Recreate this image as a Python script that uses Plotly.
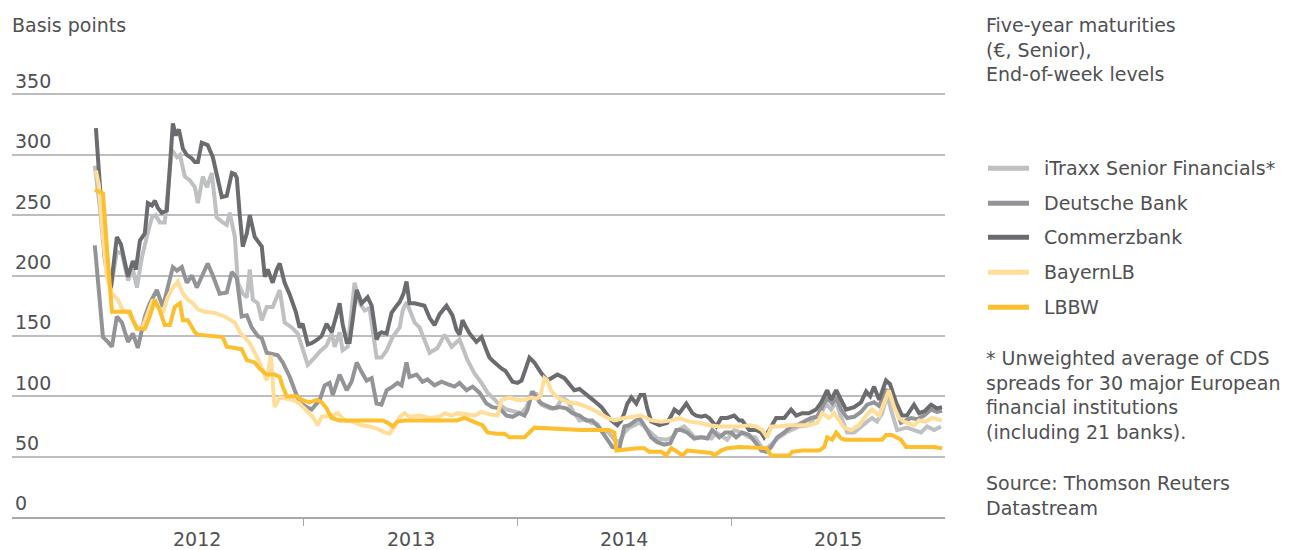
import plotly.graph_objects as go

# ---------------- data (decimal year, basis points) ----------------
series_names = ["iTraxx Senior Financials*", "Deutsche Bank", "Commerzbank", "BayernLB", "LBBW"]
series_colors = ["#BFC0C2", "#939497", "#6B6C6F", "#FFDE9A", "#FDBF2E"]

year_labels = ["2012", "2013", "2014", "2015"]
year_centers = [2012.5, 2013.5, 2014.5, 2015.5]
year_bounds = [2013, 2014, 2015]
y_ticks = [0, 50, 100, 150, 200, 250, 300, 350]

itraxx = [
    (2012.023, 291), (2012.047, 255), (2012.070, 212), (2012.098, 188), (2012.126, 220), (2012.150, 218),
    (2012.178, 196), (2012.201, 205), (2012.220, 190), (2012.243, 215), (2012.266, 232), (2012.290, 248),
    (2012.308, 250), (2012.327, 244), (2012.350, 244), (2012.364, 270), (2012.383, 304), (2012.407, 298),
    (2012.421, 300), (2012.444, 282), (2012.467, 279), (2012.491, 273), (2012.505, 260), (2012.528, 282),
    (2012.547, 273), (2012.570, 285), (2012.593, 248), (2012.621, 244), (2012.640, 242), (2012.654, 252),
    (2012.678, 232), (2012.692, 194), (2012.715, 185), (2012.734, 182), (2012.748, 205), (2012.762, 180),
    (2012.785, 177), (2012.804, 163), (2012.827, 174), (2012.855, 174), (2012.888, 188), (2012.911, 161),
    (2012.944, 157), (2012.972, 152), (2012.995, 138), (2013.019, 126), (2013.051, 132), (2013.075, 137),
    (2013.107, 142), (2013.131, 152), (2013.145, 141), (2013.168, 153), (2013.182, 138), (2013.206, 141),
    (2013.238, 194), (2013.262, 177), (2013.285, 171), (2013.308, 173), (2013.341, 132), (2013.364, 132),
    (2013.388, 138), (2013.416, 149), (2013.449, 157), (2013.463, 171), (2013.481, 178), (2013.505, 166),
    (2013.519, 161), (2013.542, 157), (2013.565, 146), (2013.589, 136), (2013.626, 140), (2013.659, 151),
    (2013.692, 141), (2013.729, 147), (2013.766, 130), (2013.799, 119), (2013.832, 111), (2013.860, 103),
    (2013.883, 99), (2013.916, 93), (2013.949, 89), (2013.986, 87), (2014.019, 86), (2014.042, 91),
    (2014.065, 103), (2014.089, 102), (2014.112, 93), (2014.150, 90), (2014.182, 90), (2014.210, 99),
    (2014.234, 96), (2014.266, 86), (2014.290, 80), (2014.318, 81), (2014.346, 78), (2014.374, 77),
    (2014.397, 70), (2014.421, 71), (2014.453, 64), (2014.477, 62), (2014.500, 70), (2014.523, 74),
    (2014.570, 78), (2014.593, 75), (2014.626, 70), (2014.654, 65), (2014.696, 64), (2014.724, 66),
    (2014.748, 72), (2014.780, 75), (2014.804, 71), (2014.827, 66), (2014.874, 66), (2014.907, 65),
    (2014.930, 70), (2014.953, 67), (2014.981, 64), (2015.014, 72), (2015.047, 70), (2015.084, 66),
    (2015.112, 66), (2015.145, 57), (2015.168, 57), (2015.192, 61), (2015.224, 66), (2015.257, 70),
    (2015.285, 72), (2015.318, 75), (2015.364, 76), (2015.388, 82), (2015.421, 86), (2015.444, 94),
    (2015.467, 89), (2015.491, 95), (2015.514, 83), (2015.542, 70), (2015.575, 70), (2015.607, 75),
    (2015.636, 79), (2015.659, 82), (2015.682, 79), (2015.706, 86), (2015.729, 101), (2015.752, 86),
    (2015.776, 72), (2015.799, 73), (2015.822, 74), (2015.855, 72), (2015.888, 70), (2015.916, 75),
    (2015.949, 72), (2015.981, 75),
]

deutsche_bank = [
    (2012.023, 225), (2012.037, 199), (2012.061, 149), (2012.084, 145), (2012.103, 141), (2012.126, 166),
    (2012.150, 161), (2012.178, 145), (2012.201, 152), (2012.224, 140), (2012.243, 155), (2012.257, 166),
    (2012.280, 177), (2012.313, 188), (2012.341, 174), (2012.364, 190), (2012.388, 207), (2012.407, 204),
    (2012.430, 207), (2012.453, 194), (2012.477, 200), (2012.500, 190), (2012.523, 200), (2012.551, 210),
    (2012.575, 200), (2012.607, 185), (2012.640, 186), (2012.664, 203), (2012.687, 198), (2012.710, 166),
    (2012.734, 167), (2012.757, 157), (2012.785, 150), (2012.804, 148), (2012.827, 136), (2012.855, 135),
    (2012.879, 134), (2012.902, 128), (2012.935, 116), (2012.958, 105), (2012.981, 95), (2013.014, 91),
    (2013.037, 89), (2013.075, 97), (2013.098, 109), (2013.121, 111), (2013.136, 101), (2013.168, 118),
    (2013.201, 105), (2013.224, 112), (2013.248, 128), (2013.271, 120), (2013.294, 113), (2013.318, 115),
    (2013.341, 94), (2013.364, 93), (2013.388, 105), (2013.416, 108), (2013.439, 111), (2013.458, 109),
    (2013.481, 128), (2013.495, 116), (2013.528, 118), (2013.556, 112), (2013.579, 114), (2013.612, 109),
    (2013.645, 112), (2013.673, 110), (2013.706, 108), (2013.729, 111), (2013.762, 105), (2013.790, 108),
    (2013.822, 103), (2013.855, 94), (2013.883, 91), (2013.916, 90), (2013.949, 84), (2013.977, 83),
    (2014.009, 86), (2014.033, 84), (2014.047, 89), (2014.070, 104), (2014.103, 95), (2014.126, 93),
    (2014.164, 90), (2014.196, 91), (2014.229, 90), (2014.257, 86), (2014.290, 84), (2014.322, 80),
    (2014.350, 80), (2014.383, 74), (2014.416, 66), (2014.444, 58), (2014.477, 57), (2014.500, 75),
    (2014.523, 76), (2014.547, 79), (2014.570, 82), (2014.593, 76), (2014.626, 66), (2014.654, 62),
    (2014.687, 60), (2014.715, 61), (2014.743, 72), (2014.766, 72), (2014.794, 70), (2014.827, 65),
    (2014.860, 66), (2014.888, 65), (2014.911, 72), (2014.944, 66), (2014.972, 70), (2015.000, 70),
    (2015.023, 66), (2015.051, 70), (2015.084, 68), (2015.117, 61), (2015.140, 55), (2015.164, 54),
    (2015.187, 58), (2015.215, 66), (2015.248, 70), (2015.280, 75), (2015.308, 76), (2015.341, 79),
    (2015.374, 82), (2015.402, 83), (2015.425, 91), (2015.449, 99), (2015.472, 94), (2015.491, 99),
    (2015.514, 89), (2015.542, 82), (2015.575, 83), (2015.607, 87), (2015.636, 93), (2015.668, 95),
    (2015.692, 92), (2015.724, 105), (2015.743, 104), (2015.771, 90), (2015.794, 78), (2015.818, 80),
    (2015.841, 82), (2015.869, 81), (2015.902, 84), (2015.935, 89), (2015.963, 87), (2015.986, 88),
]

commerzbank = [
    (2012.028, 322), (2012.047, 270), (2012.070, 215), (2012.098, 190), (2012.126, 232), (2012.145, 226),
    (2012.178, 199), (2012.201, 212), (2012.215, 205), (2012.234, 229), (2012.257, 235), (2012.271, 260),
    (2012.290, 258), (2012.304, 262), (2012.318, 256), (2012.336, 252), (2012.360, 254), (2012.374, 290),
    (2012.388, 326), (2012.402, 316), (2012.416, 321), (2012.435, 305), (2012.453, 300), (2012.477, 297),
    (2012.491, 294), (2012.505, 294), (2012.523, 310), (2012.537, 309), (2012.551, 308), (2012.575, 298),
    (2012.598, 280), (2012.617, 265), (2012.640, 266), (2012.664, 285), (2012.678, 284), (2012.687, 281),
    (2012.701, 250), (2012.715, 224), (2012.734, 235), (2012.748, 250), (2012.771, 232), (2012.785, 229),
    (2012.804, 224), (2012.818, 199), (2012.832, 205), (2012.855, 194), (2012.874, 205), (2012.888, 210),
    (2012.911, 194), (2012.935, 184), (2012.944, 180), (2012.963, 170), (2012.981, 157), (2012.995, 160),
    (2013.019, 143), (2013.037, 144), (2013.065, 147), (2013.084, 150), (2013.107, 160), (2013.131, 153),
    (2013.150, 165), (2013.168, 177), (2013.182, 160), (2013.201, 145), (2013.215, 145), (2013.229, 165),
    (2013.248, 188), (2013.271, 177), (2013.285, 180), (2013.299, 182), (2013.318, 175), (2013.341, 147),
    (2013.355, 152), (2013.364, 153), (2013.388, 152), (2013.411, 169), (2013.435, 175), (2013.449, 178),
    (2013.467, 185), (2013.481, 195), (2013.495, 177), (2013.519, 177), (2013.542, 176), (2013.565, 175),
    (2013.589, 165), (2013.612, 159), (2013.636, 168), (2013.668, 175), (2013.696, 167), (2013.715, 155),
    (2013.729, 151), (2013.743, 163), (2013.757, 158), (2013.776, 152), (2013.808, 145), (2013.832, 149),
    (2013.855, 138), (2013.869, 132), (2013.893, 128), (2013.911, 125), (2013.925, 123), (2013.944, 121),
    (2013.963, 115), (2013.977, 112), (2014.000, 111), (2014.019, 113), (2014.037, 122), (2014.056, 132),
    (2014.079, 128), (2014.093, 124), (2014.112, 119), (2014.140, 113), (2014.164, 116), (2014.187, 118),
    (2014.220, 115), (2014.243, 110), (2014.266, 105), (2014.290, 106), (2014.313, 103), (2014.336, 100),
    (2014.360, 96), (2014.393, 91), (2014.416, 86), (2014.439, 80), (2014.467, 76), (2014.486, 80),
    (2014.500, 86), (2014.514, 94), (2014.533, 99), (2014.556, 94), (2014.575, 101), (2014.593, 101),
    (2014.607, 90), (2014.626, 79), (2014.664, 76), (2014.701, 78), (2014.720, 84), (2014.734, 89),
    (2014.757, 86), (2014.790, 94), (2014.818, 86), (2014.836, 84), (2014.860, 83), (2014.879, 84),
    (2014.897, 82), (2014.930, 75), (2014.953, 82), (2014.981, 82), (2015.014, 84), (2015.037, 80),
    (2015.051, 80), (2015.070, 76), (2015.084, 72), (2015.117, 72), (2015.140, 70), (2015.154, 66),
    (2015.178, 72), (2015.210, 82), (2015.248, 82), (2015.280, 89), (2015.304, 84), (2015.332, 86),
    (2015.364, 86), (2015.397, 89), (2015.421, 95), (2015.449, 105), (2015.467, 97), (2015.491, 105),
    (2015.514, 97), (2015.537, 89), (2015.575, 91), (2015.607, 95), (2015.631, 104), (2015.650, 100),
    (2015.668, 108), (2015.692, 97), (2015.724, 113), (2015.743, 110), (2015.771, 95), (2015.799, 84),
    (2015.822, 84), (2015.855, 93), (2015.879, 86), (2015.907, 88), (2015.935, 93), (2015.963, 90),
    (2015.986, 91),
]

bayernlb = [
    (2012.028, 287), (2012.042, 275), (2012.061, 232), (2012.079, 199), (2012.103, 185), (2012.131, 180),
    (2012.154, 171), (2012.178, 170), (2012.201, 163), (2012.224, 156), (2012.248, 158), (2012.271, 169),
    (2012.294, 180), (2012.318, 174), (2012.341, 169), (2012.364, 182), (2012.388, 190), (2012.411, 195),
    (2012.435, 185), (2012.458, 180), (2012.481, 177), (2012.505, 172), (2012.537, 170), (2012.584, 169),
    (2012.631, 166), (2012.678, 161), (2012.701, 153), (2012.748, 144), (2012.794, 128), (2012.827, 113),
    (2012.846, 134), (2012.864, 91), (2012.888, 99), (2012.921, 98), (2012.949, 97), (2012.981, 94),
    (2013.014, 88), (2013.042, 83), (2013.065, 76), (2013.084, 83), (2013.131, 84), (2013.159, 86),
    (2013.192, 80), (2013.229, 79), (2013.271, 76), (2013.308, 75), (2013.346, 73), (2013.379, 70),
    (2013.402, 69), (2013.425, 75), (2013.449, 83), (2013.472, 86), (2013.495, 83), (2013.542, 84),
    (2013.589, 82), (2013.636, 83), (2013.659, 86), (2013.692, 84), (2013.720, 86), (2013.757, 85),
    (2013.799, 84), (2013.832, 87), (2013.869, 85), (2013.907, 84), (2013.925, 97), (2013.963, 99),
    (2014.000, 97), (2014.033, 97), (2014.065, 99), (2014.089, 98), (2014.107, 100), (2014.126, 115),
    (2014.140, 113), (2014.159, 104), (2014.187, 99), (2014.234, 95), (2014.280, 94), (2014.327, 91),
    (2014.374, 87), (2014.421, 82), (2014.453, 80), (2014.500, 82), (2014.547, 83), (2014.579, 84),
    (2014.603, 82), (2014.626, 80), (2014.673, 79), (2014.720, 80), (2014.757, 82), (2014.804, 79),
    (2014.850, 78), (2014.897, 76), (2014.944, 75), (2014.991, 75), (2015.037, 75), (2015.084, 76),
    (2015.117, 75), (2015.145, 72), (2015.168, 66), (2015.187, 75), (2015.224, 75), (2015.271, 76),
    (2015.318, 76), (2015.364, 76), (2015.402, 78), (2015.425, 86), (2015.458, 82), (2015.481, 86),
    (2015.505, 80), (2015.528, 74), (2015.561, 72), (2015.598, 76), (2015.631, 84), (2015.659, 89),
    (2015.692, 84), (2015.715, 94), (2015.738, 105), (2015.762, 91), (2015.785, 82), (2015.808, 79),
    (2015.855, 76), (2015.879, 80), (2015.911, 79), (2015.939, 82), (2015.972, 80), (2015.986, 80),
]

lbbw = [
    (2012.023, 271), (2012.061, 268), (2012.079, 224), (2012.093, 188), (2012.103, 170), (2012.187, 170),
    (2012.201, 163), (2012.220, 156), (2012.257, 156), (2012.280, 166), (2012.304, 180), (2012.327, 171),
    (2012.350, 159), (2012.374, 159), (2012.397, 174), (2012.421, 177), (2012.435, 163), (2012.458, 163),
    (2012.491, 153), (2012.505, 151), (2012.621, 149), (2012.640, 141), (2012.710, 139), (2012.734, 130),
    (2012.771, 128), (2012.794, 123), (2012.827, 118), (2012.864, 118), (2012.888, 116), (2012.902, 108),
    (2012.921, 100), (2012.967, 100), (2012.991, 97), (2013.028, 95), (2013.061, 97), (2013.084, 95),
    (2013.107, 90), (2013.131, 82), (2013.168, 80), (2013.369, 80), (2013.393, 78), (2013.416, 75),
    (2013.439, 79), (2013.472, 80), (2013.715, 80), (2013.752, 82), (2013.785, 80), (2013.808, 78),
    (2013.836, 76), (2013.860, 70), (2013.902, 69), (2013.939, 69), (2013.963, 66), (2014.033, 66),
    (2014.056, 70), (2014.079, 74), (2014.299, 72), (2014.430, 72), (2014.453, 70), (2014.463, 55),
    (2014.561, 57), (2014.593, 57), (2014.617, 54), (2014.673, 54), (2014.696, 51), (2014.720, 57),
    (2014.748, 54), (2014.771, 51), (2014.794, 55), (2014.860, 54), (2014.907, 53), (2014.921, 51),
    (2014.953, 55), (2014.981, 57), (2015.037, 58), (2015.164, 57), (2015.187, 51), (2015.271, 51),
    (2015.285, 54), (2015.332, 55), (2015.411, 55), (2015.435, 58), (2015.449, 66), (2015.472, 64),
    (2015.491, 70), (2015.514, 65), (2015.533, 64), (2015.706, 64), (2015.724, 68), (2015.752, 68),
    (2015.794, 64), (2015.818, 58), (2015.949, 58), (2015.986, 57),
]

series_data = [itraxx, deutsche_bank, commerzbank, bayernlb, lbbw]

header_text = "Five-year maturities<br>(€, Senior),<br>End-of-week levels"
footnote_text = "* Unweighted average of CDS<br>spreads for 30 major European<br>financial institutions<br>(including 21 banks)."
source_text = "Source: Thomson Reuters<br>Datastream"

# ---------------- figure ----------------
TEXT = "#505052"
FONT = "DejaVu Sans"

# the page body adds an 8 px margin; positions below are given in page pixels
OFF = 8
W, H = 1290 - OFF, 550 - OFF
L, R, T, B = 12 - OFF, 945 - OFF, 94 - OFF, 517 - OFF   # plot area in figure pixels
YMAX = 352
T_EXT = B - (B - T) * YMAX / 350.0

def px(x):
    return (x - OFF - L) / (R - L)

def py(y):
    return (B - (y - OFF)) / (B - T_EXT)

fig = go.Figure()
for name, pts, col in zip(series_names, series_data, series_colors):
    fig.add_trace(go.Scatter(
        x=[p[0] for p in pts], y=[p[1] for p in pts], mode="lines", name=name,
        line=dict(color=col, width=4), showlegend=False, hoverinfo="skip"))

annotations = [
    dict(text="Basis points", x=px(10), y=py(25), xref="paper", yref="paper",
         xanchor="left", yanchor="middle", showarrow=False, align="left"),
    dict(text=header_text, x=px(984), y=py(49.5), xref="paper", yref="paper",
         xanchor="left", yanchor="middle", showarrow=False, align="left"),
    dict(text=footnote_text, x=px(984), y=py(395), xref="paper", yref="paper",
         xanchor="left", yanchor="middle", showarrow=False, align="left"),
    dict(text=source_text, x=px(984), y=py(495.5), xref="paper", yref="paper",
         xanchor="left", yanchor="middle", showarrow=False, align="left"),
]
for lab, xc in zip(year_labels, year_centers):
    annotations.append(dict(text=lab, x=xc, y=py(539), xref="x", yref="paper",
                            xanchor="center", yanchor="middle", showarrow=False))

legend_y = [168, 203, 237, 272, 307]
shapes = []
for name, col, ly in zip(series_names, series_colors, legend_y):
    shapes.append(dict(type="line", xref="paper", yref="paper", x0=px(988), x1=px(1029),
                       y0=py(ly), y1=py(ly), line=dict(color=col, width=5)))
    annotations.append(dict(text=name, x=px(1042), y=py(ly), xref="paper", yref="paper",
                            xanchor="left", yanchor="middle", showarrow=False, align="left"))

fig.update_layout(
    width=W, height=H,
    margin=dict(l=L, r=W - R, t=T_EXT, b=H - B, pad=0),
    paper_bgcolor="white", plot_bgcolor="white",
    font=dict(family=FONT, size=19, color=TEXT),
    showlegend=False,
    annotations=annotations, shapes=shapes,
    xaxis=dict(range=[2012 - 78 / 214, 2016.0], tickvals=year_bounds, ticks="outside",
               ticklen=7, tickwidth=1, tickcolor="#A8A8A8", showticklabels=False,
               showgrid=False, zeroline=False, showline=True, linecolor="#A8A8A8",
               linewidth=1.5, fixedrange=True),
    yaxis=dict(range=[0, YMAX], tickvals=y_ticks, showgrid=True, gridcolor="#BDBDBD",
               gridwidth=1.5, zeroline=False, showline=False, ticks="",
               ticklabelposition="inside top", ticklabeloverflow="allow",
               tickfont=dict(family=FONT, size=19, color=TEXT), fixedrange=True),
)

fig.write_html("out.html")
